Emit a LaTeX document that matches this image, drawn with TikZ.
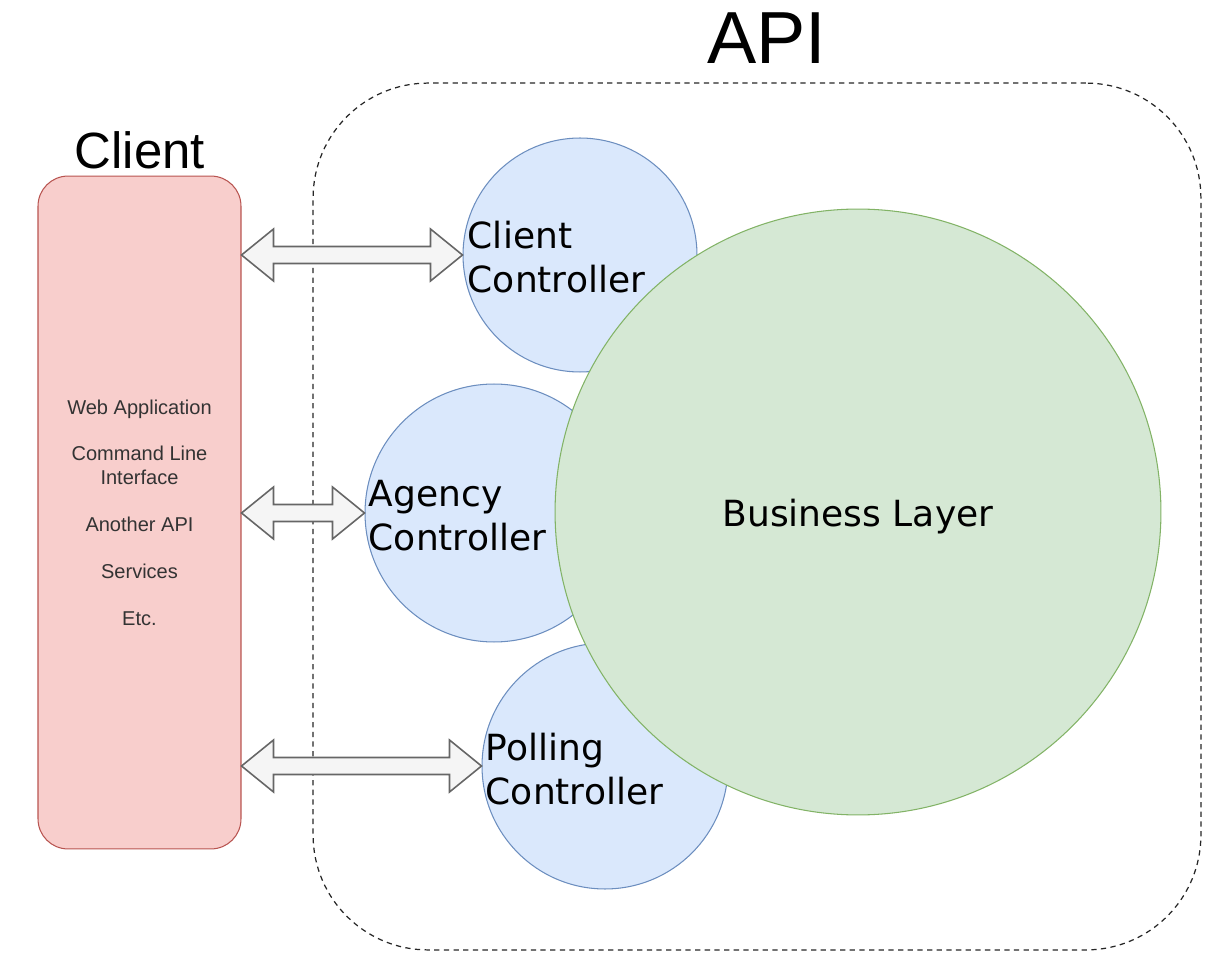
\documentclass[tikz,border=0pt]{standalone}
\usepackage{fontspec}
\setmainfont{Liberation Sans}
\newfontfamily\dvs{DejaVu Sans}
\usetikzlibrary{calc}
\definecolor{redfill}{HTML}{F8CECC}
\definecolor{redline}{HTML}{B85450}
\definecolor{bluefill}{HTML}{DAE8FC}
\definecolor{blueline}{HTML}{6C8EBF}
\definecolor{greenfill}{HTML}{D5E8D4}
\definecolor{greenline}{HTML}{82B366}
\definecolor{arrfill}{HTML}{F5F5F5}
\definecolor{arrline}{HTML}{666666}
\definecolor{txt}{HTML}{333333}
\tikzset{
  ctrl/.style={circle, draw=blueline, fill=bluefill, line width=0.6pt, inner sep=0pt},
  ctrltext/.style={anchor=west, align=left, inner sep=0pt, font=\dvs\fontsize{20.5}{25}\selectfont},
  hollowarrow/.style={draw=arrline, fill=arrfill, line width=0.9pt, line join=miter},
}
\newcommand{\dblarrow}[2]{%
  \draw[hollowarrow] let \p1=(#1), \p2=(#2) in
    (\x1,\y1) -- (\x1+0.64cm,\y1+0.52cm) -- (\x1+0.64cm,\y1+0.17cm) --
    (\x2-0.64cm,\y1+0.17cm) -- (\x2-0.64cm,\y1+0.52cm) -- (\x2,\y1) --
    (\x2-0.64cm,\y1-0.52cm) -- (\x2-0.64cm,\y1-0.17cm) --
    (\x1+0.64cm,\y1-0.17cm) -- (\x1+0.64cm,\y1-0.52cm) -- cycle;}
\begin{document}
\begin{tikzpicture}[x=0.02cm,y=-0.02cm]
\useasboundingbox (0,0) rectangle (1231,969);
% API container
\node[draw=black!85, dashed, dash pattern=on 3pt off 2.5pt, rounded corners=2.3cm, line width=0.7pt,
      minimum width=17.76cm, minimum height=17.34cm, inner sep=0pt] (api) at (757,516.5) {};
\node[font=\fontsize{42}{44}\selectfont] (apilabel) at (767,38) {API};
% Client
\node[draw=redline, fill=redfill, rounded corners=0.6cm, line width=0.6pt,
      minimum width=4.06cm, minimum height=13.46cm, inner sep=0pt, align=center,
      text=txt, font=\fontsize{11.4}{13.6}\selectfont] (client) at (139.5,512.5)
      {Web Application\\[13pt]Command Line\\Interface\\[13pt]Another API\\[13pt]Services\\[13pt]Etc.};
\node[font=\fontsize{29}{32}\selectfont] (clientlabel) at (140,150) {Client};
% Controllers
\node[ctrl, minimum size=4.68cm] (cc) at (580,255) {};
\node[ctrl, minimum size=5.16cm] (ac) at (494,513) {};
\node[ctrl, minimum size=4.92cm] (pc) at (605,766) {};
% Business layer
\node[circle, draw=greenline, fill=greenfill, line width=0.6pt, inner sep=0pt,
      minimum size=12.12cm] (bl) at (858,512) {};
\node[font=\dvs\fontsize{20.5}{24}\selectfont] (bltext) at (858,517) {Business Layer};
% Controller texts
\node[ctrltext] (cct) at ($(cc.west)+(5,2)$) {Client\\Controller};
\node[ctrltext] (act) at ($(ac.west)+(4,3)$) {Agency\\Controller};
\node[ctrltext] (pct) at ($(pc.west)+(4,3)$) {Polling\\Controller};
% Arrows
\coordinate (a1) at (client.east |- cc.west);
\coordinate (a2) at (client.east |- ac.west);
\coordinate (a3) at (client.east |- pc.west);
\dblarrow{a1}{cc.west}
\dblarrow{a2}{ac.west}
\dblarrow{a3}{pc.west}
\end{tikzpicture}
\end{document}
